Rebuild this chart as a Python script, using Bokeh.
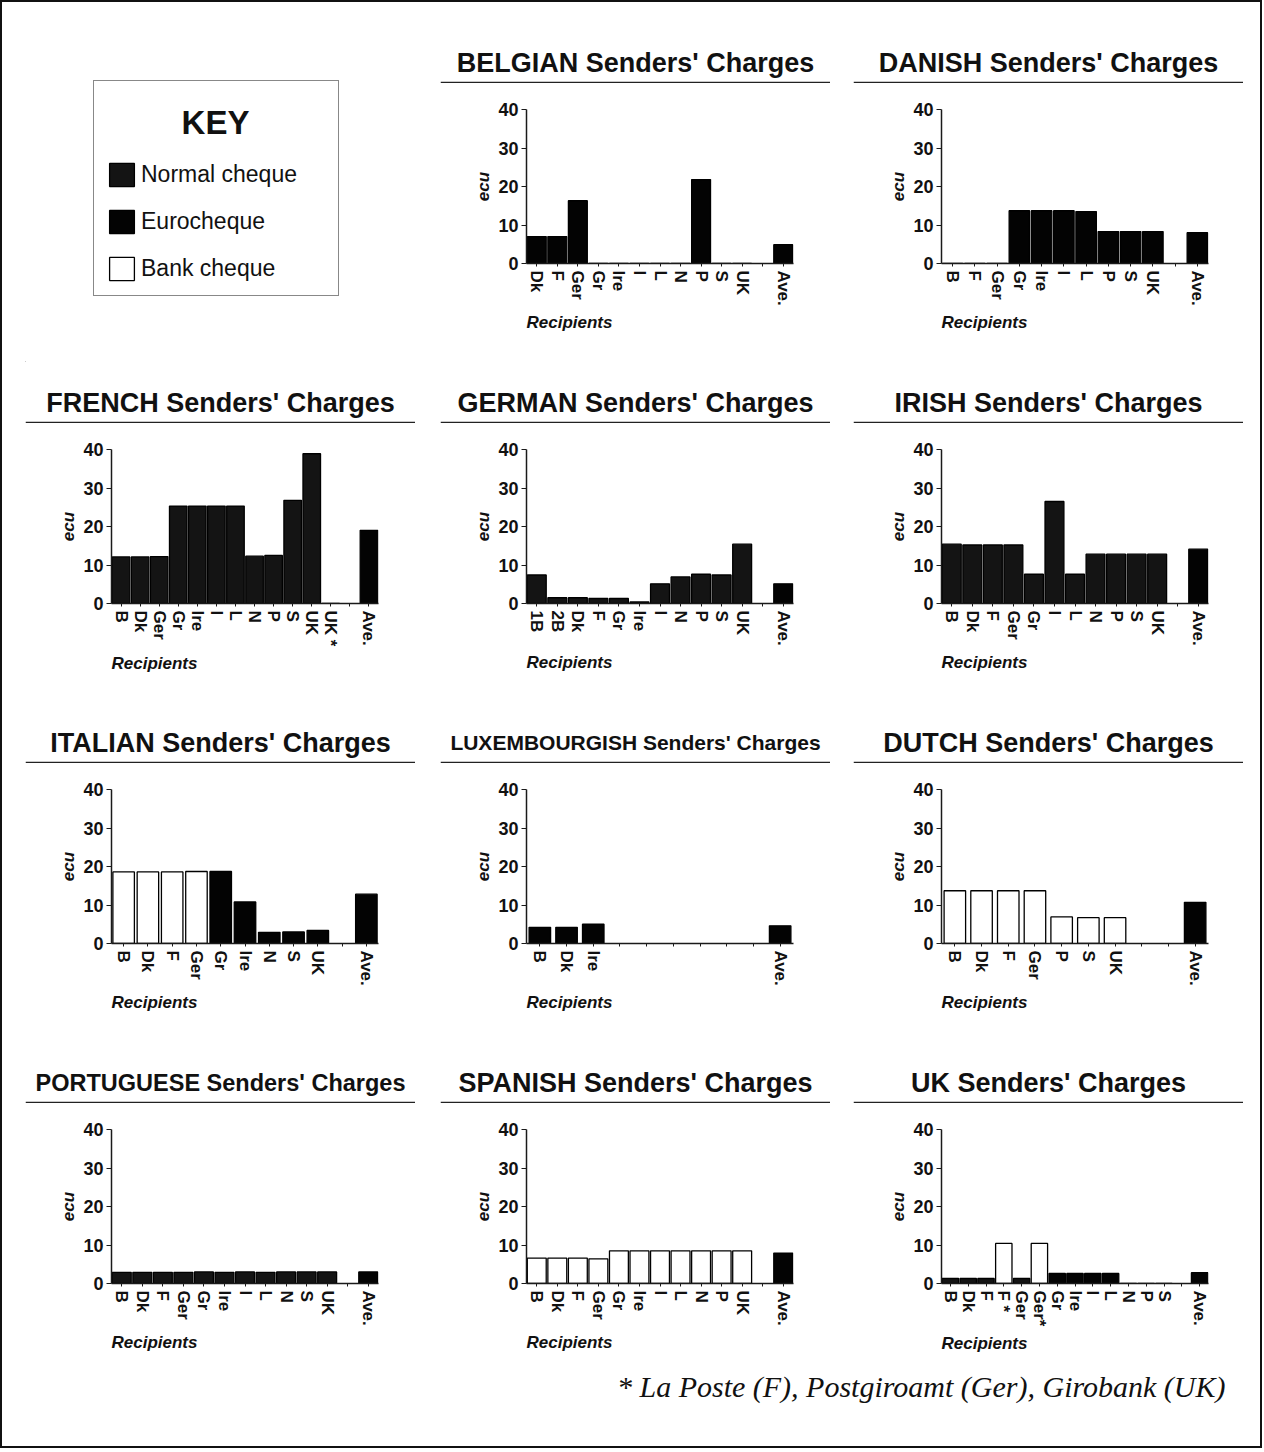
from bokeh.plotting import figure
from bokeh.models import (Range1d, FactorRange, Span, Legend, LegendItem, Title,
                          ColumnDataSource, Spacer, FixedTicker)
from bokeh.layouts import column, row
from bokeh.embed import file_html
from bokeh.resources import INLINE
from bokeh.core.properties import value

# ---------------- data ----------------
Y_TICKS = [0, 10, 20, 30, 40]
KEY_TITLE = "KEY"
KEY_LABELS = ["Normal cheque", "Eurocheque", "Bank cheque"]
KEY_KINDS = ["N", "E", "B"]
FOOTNOTE = "* La Poste (F), Postgiroamt (Ger), Girobank (UK)"
X_LABEL = "Recipients"
Y_LABEL = "ecu"

# kinds: N = normal cheque, E = eurocheque, B = bank cheque, "" = empty slot
belgian_title = "BELGIAN Senders' Charges"
belgian_recipients = ["Dk", "F", "Ger", "Gr", "Ire", "I", "L", "N", "P", "S", "UK", "", "Ave."]
belgian_ecu = [7.0, 7.0, 16.3, 0, 0, 0, 0, 0, 21.8, 0, 0, 0, 4.9]
belgian_kind = ["E", "E", "E", "E", "E", "E", "E", "E", "E", "E", "E", "", "E"]

danish_title = "DANISH Senders' Charges"
danish_recipients = ["B", "F", "Ger", "Gr", "Ire", "I", "L", "P", "S", "UK", "", "Ave."]
danish_ecu = [0, 0, 0, 13.7, 13.7, 13.7, 13.5, 8.3, 8.3, 8.3, 0, 8.0]
danish_kind = ["E", "E", "E", "E", "E", "E", "E", "E", "E", "E", "", "E"]

french_title = "FRENCH Senders' Charges"
french_recipients = ["B", "Dk", "Ger", "Gr", "Ire", "I", "L", "N", "P", "S", "UK", "UK *", "", "Ave."]
french_ecu = [12.1, 12.1, 12.2, 25.3, 25.3, 25.3, 25.3, 12.3, 12.5, 26.8, 38.9, 0, 0, 19.0]
french_kind = ["N", "N", "N", "N", "N", "N", "N", "N", "N", "N", "N", "N", "", "E"]

german_title = "GERMAN Senders' Charges"
german_recipients = ["1B", "2B", "Dk", "F", "Gr", "Ire", "I", "N", "P", "S", "UK", "", "Ave."]
german_ecu = [7.4, 1.5, 1.5, 1.3, 1.3, 0.4, 5.1, 6.9, 7.6, 7.4, 15.4, 0, 5.1]
german_kind = ["N", "N", "N", "N", "N", "N", "N", "N", "N", "N", "N", "", "E"]

irish_title = "IRISH Senders' Charges"
irish_recipients = ["B", "Dk", "F", "Ger", "Gr", "I", "L", "N", "P", "S", "UK", "", "Ave."]
irish_ecu = [15.4, 15.2, 15.2, 15.2, 7.6, 26.5, 7.6, 12.8, 12.8, 12.8, 12.8, 0, 14.1]
irish_kind = ["N", "N", "N", "N", "N", "N", "N", "N", "N", "N", "N", "", "E"]

italian_title = "ITALIAN Senders' Charges"
italian_recipients = ["B", "Dk", "F", "Ger", "Gr", "Ire", "N", "S", "UK", "", "Ave."]
italian_ecu = [18.6, 18.6, 18.6, 18.7, 18.7, 10.8, 2.9, 3.0, 3.4, 0, 12.8]
italian_kind = ["B", "B", "B", "B", "E", "E", "E", "E", "E", "", "E"]

lux_title = "LUXEMBOURGISH Senders' Charges"
lux_recipients = ["B", "Dk", "Ire", "", "", "", "", "", "", "Ave."]
lux_ecu = [4.2, 4.2, 5.0, 0, 0, 0, 0, 0, 0, 4.6]
lux_kind = ["E", "E", "E", "", "", "", "", "", "", "E"]

dutch_title = "DUTCH Senders' Charges"
dutch_recipients = ["B", "Dk", "F", "Ger", "P", "S", "UK", "", "", "Ave."]
dutch_ecu = [13.7, 13.7, 13.7, 13.7, 6.9, 6.7, 6.7, 0, 0, 10.7]
dutch_kind = ["B", "B", "B", "B", "B", "B", "B", "", "", "E"]

portuguese_title = "PORTUGUESE Senders' Charges"
portuguese_recipients = ["B", "Dk", "F", "Ger", "Gr", "Ire", "I", "L", "N", "S", "UK", "", "Ave."]
portuguese_ecu = [2.9, 2.9, 2.9, 2.9, 3.0, 2.9, 3.0, 2.9, 3.0, 3.0, 3.0, 0, 3.0]
portuguese_kind = ["N", "N", "N", "N", "N", "N", "N", "N", "N", "N", "N", "", "E"]

spanish_title = "SPANISH Senders' Charges"
spanish_recipients = ["B", "Dk", "F", "Ger", "Gr", "Ire", "I", "L", "N", "P", "UK", "", "Ave."]
spanish_ecu = [6.6, 6.6, 6.6, 6.4, 8.5, 8.5, 8.5, 8.5, 8.5, 8.5, 8.5, 0, 7.9]
spanish_kind = ["B", "B", "B", "B", "B", "B", "B", "B", "B", "B", "B", "", "E"]

uk_title = "UK Senders' Charges"
uk_recipients = ["B", "Dk", "F", "F *", "Ger", "Ger*", "Gr", "Ire", "I", "L", "N", "P", "S", "", "Ave."]
uk_ecu = [1.3, 1.3, 1.3, 10.4, 1.3, 10.4, 2.6, 2.6, 2.6, 2.6, 0, 0, 0, 0, 2.8]
uk_kind = ["N", "N", "N", "B", "N", "B", "E", "E", "E", "E", "E", "E", "E", "", "E"]

# ---------------- style / layout ----------------
SANS = "Liberation Sans"
SERIF = "Liberation Serif"
FILL = {"N": "#141414", "E": "#030303", "B": "#ffffff"}
INK = "#111111"

LEFT_PAD = 23
TOP_SPACE = 20
BLOCK_W = [415, 413, 407]
FRAME_LEFT = [86, 86, 88]
FRAME_W = 267
FRAME_H = 154
TITLE_H = 61
TITLE_W = 390
BLOCK_H = 340
TOP_PAD = 26
LAST_CHART_H = 257
FOOT_H = 86


def base_fig(w, h, xr, yr, **kw):
    f = figure(width=w, height=h, x_range=xr, y_range=yr, tools="", toolbar_location=None,
               output_backend="svg", outline_line_color=None,
               background_fill_color="white", border_fill_color="white", **kw)
    f.grid.visible = False
    return f


def make_title(text, size):
    t = base_fig(TITLE_W, TITLE_H, Range1d(0, TITLE_W), Range1d(0, TITLE_H),
                 x_axis_location=None, y_axis_location=None, min_border=0)
    t.text(x=[TITLE_W / 2], y=[TITLE_H - 40], text=[text], text_font=value(SANS),
           text_font_style="bold", text_font_size=size, text_align="center",
           text_baseline="middle", text_color=INK)
    t.add_layout(Span(location=1, dimension="width", line_color="#222222", line_width=1.6))
    return t


def make_chart(recips, ecu, kinds, col, height):
    factors, gap = [], 0
    for r in recips:
        if r == "":
            gap += 1
            factors.append(" " * gap)
        else:
            factors.append(r)
    n = len(factors)
    left = FRAME_LEFT[col]
    right = BLOCK_W[col] - left - FRAME_W
    p = base_fig(BLOCK_W[col], height, FactorRange(factors=factors), Range1d(0, 40),
                 min_border_left=left, min_border_right=right, min_border_top=TOP_PAD,
                 min_border_bottom=height - TOP_PAD - FRAME_H)
    keep = [i for i, r in enumerate(recips) if r != ""]
    src = ColumnDataSource(dict(x=[factors[i] for i in keep],
                                top=[ecu[i] for i in keep],
                                fill=[FILL[kinds[i]] for i in keep]))
    slot = FRAME_W / n
    p.vbar(x="x", top="top", bottom=0, width=min(0.92, 21.5 / slot), source=src,
           fill_color="fill", line_color="#000000", line_width=1.3)

    ax = p.xaxis[0]
    ax.major_label_orientation = "vertical"
    ax.major_label_text_font = SANS
    ax.major_label_text_font_style = "bold"
    ax.major_label_text_font_size = "17px"
    ax.major_label_text_color = INK
    ax.major_label_standoff = 4
    ax.major_tick_out = 3
    ax.major_tick_in = 0
    ax.axis_line_width = 1.5
    ax.axis_line_color = "#1a1a1a"
    ax.major_tick_line_color = "#1a1a1a"
    # x-axis caption, left-aligned with the start of the axis
    p.add_layout(Title(text=X_LABEL, align="left", text_font=SANS,
                       text_font_style="bold italic", text_font_size="17px",
                       text_color=INK, standoff=4), "below")

    ay = p.yaxis[0]
    ay.ticker = FixedTicker(ticks=Y_TICKS)
    ay.axis_label = Y_LABEL
    ay.axis_label_text_font = SANS
    ay.axis_label_text_font_style = "bold italic"
    ay.axis_label_text_font_size = "17px"
    ay.axis_label_text_color = INK
    ay.axis_label_standoff = 2
    ay.major_label_text_font = SANS
    ay.major_label_text_font_style = "bold"
    ay.major_label_text_font_size = "18px"
    ay.major_label_text_color = INK
    ay.major_label_standoff = 3
    ay.major_tick_out = 5
    ay.major_tick_in = 0
    ay.minor_tick_out = 0
    ay.minor_tick_in = 0
    ay.axis_line_width = 1.5
    ay.axis_line_color = "#1a1a1a"
    ay.major_tick_line_color = "#1a1a1a"
    return p


def make_block(spec, col, last=False):
    title, recips, ecu, kinds, size = spec
    ch = LAST_CHART_H if last else BLOCK_H - TITLE_H
    return column(row(make_title(title, size)),
                  row(make_chart(recips, ecu, kinds, col, ch)), spacing=0)


def make_key():
    w, h = BLOCK_W[0], BLOCK_H
    k = base_fig(w, h, Range1d(0, w), Range1d(0, h),
                 x_axis_location=None, y_axis_location=None, min_border=0)
    items = []
    for lab, kind in zip(KEY_LABELS, KEY_KINDS):
        # legend proxy glyphs, placed outside the visible range
        r = k.vbar(x=[-100], top=[-100], bottom=-101, width=1, fill_color=FILL[kind],
                   line_color="#000000", line_width=1.3)
        items.append(LegendItem(label=lab, renderers=[r]))
    leg = Legend(items=items, location=(68, 66), margin=0, padding=12, spacing=18,
                 title=" ", title_text_font_size="32px", title_standoff=30,
                 glyph_width=31, glyph_height=29, label_height=29, label_width=185,
                 label_standoff=4, label_text_font=SANS, label_text_font_size="23px",
                 label_text_color=INK, border_line_color=INK, border_line_width=1.5,
                 background_fill_alpha=0)
    k.add_layout(leg)
    k.text(x=[190], y=[240], text=[KEY_TITLE], text_font=value(SANS), text_font_style="bold",
           text_font_size="33px", text_align="center", text_baseline="middle", text_color=INK)
    return k


def make_footnote(width):
    f = base_fig(width, FOOT_H, Range1d(0, width), Range1d(0, FOOT_H),
                 x_axis_location=None, y_axis_location=None, min_border=0)
    f.text(x=[1223], y=[FOOT_H - 26], text=[FOOTNOTE], text_font=value(SERIF),
           text_font_style="italic", text_font_size="30px", text_align="right",
           text_baseline="middle", text_color=INK)
    return f


BIG = "27px"
PANELS = {
    "belgian": (belgian_title, belgian_recipients, belgian_ecu, belgian_kind, BIG),
    "danish": (danish_title, danish_recipients, danish_ecu, danish_kind, BIG),
    "french": (french_title, french_recipients, french_ecu, french_kind, BIG),
    "german": (german_title, german_recipients, german_ecu, german_kind, BIG),
    "irish": (irish_title, irish_recipients, irish_ecu, irish_kind, BIG),
    "italian": (italian_title, italian_recipients, italian_ecu, italian_kind, BIG),
    "lux": (lux_title, lux_recipients, lux_ecu, lux_kind, "21px"),
    "dutch": (dutch_title, dutch_recipients, dutch_ecu, dutch_kind, BIG),
    "portuguese": (portuguese_title, portuguese_recipients, portuguese_ecu, portuguese_kind, "23.5px"),
    "spanish": (spanish_title, spanish_recipients, spanish_ecu, spanish_kind, BIG),
    "uk": (uk_title, uk_recipients, uk_ecu, uk_kind, BIG),
}
GRID = [["KEY", "belgian", "danish"],
        ["french", "german", "irish"],
        ["italian", "lux", "dutch"],
        ["portuguese", "spanish", "uk"]]

children = [Spacer(width=10, height=TOP_SPACE)]
for ri, names in enumerate(GRID):
    last = ri == len(GRID) - 1
    blocks = [Spacer(width=LEFT_PAD, height=10)]
    for ci, name in enumerate(names):
        if name == "KEY":
            blocks.append(make_key())
        else:
            blocks.append(make_block(PANELS[name], ci, last))
    children.append(row(*blocks, spacing=0))
inner_w = LEFT_PAD + sum(BLOCK_W)
children.append(make_footnote(inner_w))

layout = column(*children, spacing=0, styles={"border": "2px solid #111111"})

open("out.html", "w").write(file_html(layout, INLINE, title="Senders' Charges"))
